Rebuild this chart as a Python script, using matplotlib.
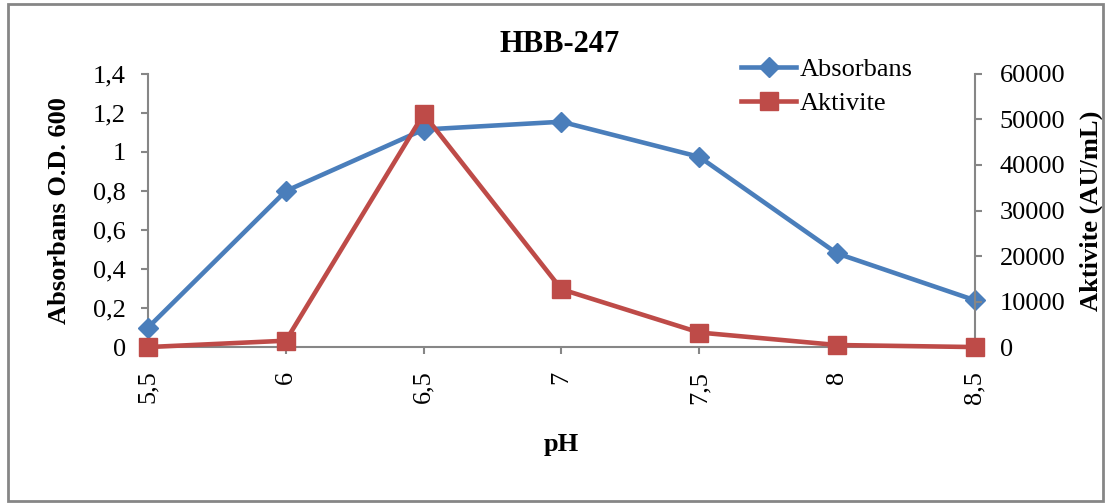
import matplotlib.pyplot as plt
from matplotlib.patches import Rectangle
from matplotlib.ticker import FuncFormatter

plt.rcParams['font.family'] = ['Liberation Serif', 'DejaVu Serif']

ph = ['5,5', '6', '6,5', '7', '7,5', '8', '8,5']
absorbans = [0.1, 0.8, 1.115, 1.155, 0.975, 0.48, 0.24]
aktivite = [0, 1400, 51200, 12700, 3200, 450, 0]

blue = '#4A7EBB'
red = '#BE4B48'
grey = '#868686'

fig = plt.figure(figsize=(11.09, 5.03), dpi=100)
ax = fig.add_axes([0.1335, 0.31, 0.7455, 0.543])
ax2 = ax.twinx()

x = range(len(ph))
l1, = ax.plot(x, absorbans, color=blue, lw=3.3, marker='D', ms=10.5,
              mec=blue, mfc=blue, label='Absorbans', clip_on=False, zorder=5)
l2, = ax2.plot(x, aktivite, color=red, lw=3.3, marker='s', ms=13,
               mec=red, mfc=red, label='Aktivite', clip_on=False, zorder=5)

ax.set_xlim(0, len(ph) - 1)
ax.set_ylim(0, 1.4)
ax2.set_ylim(0, 60000)
ax.set_xticks(list(x))
ax.set_xticklabels(ph, rotation=90)
ax.set_yticks([0, 0.2, 0.4, 0.6, 0.8, 1.0, 1.2, 1.4])
ax.yaxis.set_major_formatter(FuncFormatter(lambda v, p: ('%g' % round(v, 1)).replace('.', ',')))
ax2.set_yticks(range(0, 60001, 10000))

for a in (ax, ax2):
    for s in a.spines.values():
        s.set_color(grey)
        s.set_linewidth(1.5)
    a.spines['top'].set_visible(False)
    a.tick_params(colors=grey, labelcolor='black', labelsize=19, length=5, width=1.5)
ax.spines['right'].set_visible(False)
ax2.spines['left'].set_visible(False)
ax2.spines['bottom'].set_visible(False)
ax.tick_params(axis='x', pad=12)
ax.tick_params(axis='y', pad=11)
ax2.tick_params(axis='y', pad=13)

ax.set_xlabel('pH', fontsize=19, fontweight='bold', labelpad=21)
ax.set_ylabel('Absorbans O.D. 600', fontsize=19, fontweight='bold', labelpad=16)
ax2.set_ylabel('Aktivite (AU/mL)', fontsize=19, fontweight='bold', labelpad=10)
fig.text(0.505, 0.912, 'HBB-247', ha='center', va='center', fontsize=22, fontweight='bold')

ax2.legend([l1, l2], ['Absorbans', 'Aktivite'], loc='upper left',
           bbox_to_anchor=(0.668, 0.886), bbox_transform=fig.transFigure,
           frameon=False, fontsize=19, handlelength=2.1, handletextpad=0.15,
           labelspacing=0.4, borderaxespad=0, borderpad=0)

fig.patches.append(Rectangle((0.007, 0.004), 0.988, 0.988, transform=fig.transFigure,
                             fill=False, edgecolor=grey, lw=2))

fig.savefig('out.png', dpi=100)
